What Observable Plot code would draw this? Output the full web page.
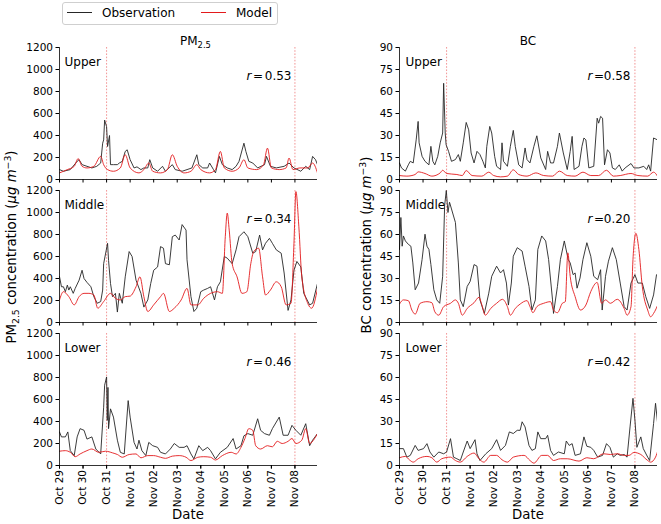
<!DOCTYPE html>
<html><head><meta charset="utf-8">
<script src="https://cdn.jsdelivr.net/npm/d3@7"></script>
<script src="https://cdn.jsdelivr.net/npm/@observablehq/plot@0.6"></script>
<style>
body{margin:0;background:#fff;font-family:"DejaVu Sans",sans-serif;}
#root{position:relative;width:661px;height:524px;overflow:hidden;background:#fff;}
.abs{position:absolute;white-space:nowrap;line-height:1;color:#000;}
sub,sup{font-size:0.7em;line-height:0;}
sub{vertical-align:-0.3em;}
sup{vertical-align:0.55em;}
</style></head><body><div id="root"></div>
<script>
// ---- data: [hours since Oct 29 00:00, value] ----
const regions = ["Upper", "Middle", "Lower"];
const seriesNames = ["Observation", "Model"];
const dayLabels = ["Oct 29","Oct 30","Oct 31","Nov 01","Nov 02","Nov 03","Nov 04","Nov 05","Nov 06","Nov 07","Nov 08"];
const pmTicks = [0, 200, 400, 600, 800, 1000, 1200];
const bcTicks = [0, 15, 30, 45, 60, 75, 90];
const pmR = ["0.53", "0.34", "0.46"];
const bcR = ["0.58", "0.20", "0.42"];

const pmUpperObs = [[0,90],[4,75],[11,90],[18,165],[20,180],[23,135],[28,120],[33,105],[38,120],[42,150],[44,330],[45,360],[46,540],[48,480],[49,300],[51,400],[52,135],[55,135],[59,135],[61,150],[64,165],[67,255],[69,270],[72,180],[76,105],[79,115],[83,90],[86,105],[90,105],[92,180],[95,105],[100,75],[105,120],[108,75],[115,135],[118,90],[125,75],[130,90],[135,105],[140,225],[142,135],[146,105],[151,105],[153,150],[157,90],[159,60],[163,210],[166,135],[171,105],[176,90],[180,120],[183,165],[188,330],[190,255],[193,165],[197,150],[202,105],[209,135],[211,210],[215,120],[221,105],[229,120],[234,150],[239,105],[246,75],[251,120],[255,90],[258,210],[261,180],[263,135]];
const pmUpperMod = [[0,60],[8,90],[15,120],[19,190],[23,120],[28,105],[35,120],[42,210],[45,135],[49,90],[55,75],[62,105],[67,225],[72,105],[81,60],[86,90],[91,150],[95,75],[103,60],[110,90],[115,225],[120,120],[127,60],[134,75],[140,135],[144,90],[153,60],[159,90],[164,255],[168,105],[176,75],[183,105],[188,180],[192,105],[201,90],[208,135],[212,285],[216,105],[224,90],[231,105],[234,195],[238,90],[245,105],[253,105],[258,150],[263,60]];
const pmMiddleObs = [[0,417],[2,325],[4,325],[6,280],[8,340],[9.5,295],[11,325],[14,265],[16,310],[20,385],[23,475],[25,400],[28,365],[32,325],[35,235],[38.5,175],[42,190],[44,295],[45,535],[49,720],[50,565],[52,355],[54,235],[57,265],[59,95],[61,265],[64,175],[67,415],[71,645],[74,600],[78,385],[83,265],[86,140],[90,205],[93,355],[96,475],[100,505],[103,690],[106,675],[108,535],[112,525],[115,780],[118,795],[122,750],[125,890],[129,840],[130,570],[134,235],[137,100],[140,130],[144,280],[147,295],[151,310],[154,325],[158,205],[161,325],[164,370],[168,600],[171,585],[176,535],[180,660],[183,780],[188,825],[192,780],[197,630],[200,645],[204,795],[207,660],[210,720],[214,765],[217,720],[221,660],[226,630],[229,450],[233,110],[236,205],[239,475],[242,555],[246,505],[249,265],[255,160],[258,175],[263,355]];
const pmMiddleMod = [[0,205],[4,280],[9.5,235],[15,160],[20,235],[25,265],[30,265],[35,250],[39,130],[45,190],[52,265],[57,220],[62,205],[67,235],[72,240],[78,325],[82,415],[86,235],[90,100],[96,160],[103,235],[106,265],[112,100],[117,130],[124,205],[130,310],[134,160],[141,160],[147,220],[154,265],[161,280],[166,265],[169,780],[171,995],[173,840],[176,535],[181,415],[186,265],[191,280],[195,535],[198,645],[203,675],[207,415],[210,250],[215,295],[221,370],[226,325],[231,160],[236,175],[239,720],[241,1190],[244,870],[247,415],[253,175],[257,130],[263,310]];
const pmLowerObs = [[0,305],[2,260],[6,260],[8.5,305],[11,135],[15,90],[18,260],[21,335],[25,320],[28,240],[33,260],[37,150],[42,105],[45,530],[46,730],[48,805],[48.7,410],[49.4,710],[50,335],[52,515],[55,440],[59,230],[62,120],[66,105],[70,590],[72,440],[76,210],[79,150],[81,230],[84,135],[88,90],[91,210],[95,180],[100,165],[103,120],[108,105],[113,150],[117,200],[122,165],[127,165],[130,180],[134,105],[137,60],[142,180],[146,135],[151,165],[154,135],[159,60],[164,120],[171,165],[177,245],[180,150],[185,180],[188,270],[192,290],[197,275],[202,425],[205,320],[209,290],[214,275],[217,335],[224,440],[228,275],[233,275],[237,365],[241,320],[246,275],[251,380],[255,180],[258,230],[263,290]];
const pmLowerMod = [[0,130],[6,135],[11,120],[16,80],[21,105],[28,135],[33,150],[40,120],[47,130],[54,115],[59,100],[64,75],[71,100],[78,105],[83,70],[90,90],[96,90],[103,75],[108,65],[115,85],[122,90],[129,75],[134,45],[141,75],[147,80],[154,75],[159,50],[166,90],[175,120],[180,105],[185,165],[189,245],[193,335],[197,320],[200,180],[205,150],[212,180],[217,170],[222,220],[227,200],[233,220],[237,245],[241,200],[247,230],[251,335],[255,200],[260,245],[263,290]];

const bcUpperObs = [[0,11.3],[2,7.9],[6,5.7],[9,10],[11,12.4],[14,11.3],[17,27],[19,39.6],[20,25],[23,15.8],[26,12.4],[30,10],[32,22.6],[34,12.4],[36,10],[39,15.8],[41.5,25],[44,31.7],[45,65.6],[46.6,31.7],[47.5,23.7],[50,19.2],[53,12.4],[57,13.6],[60,17],[62,12.4],[65,25],[68,38.9],[70.5,33.9],[73,18.1],[76,11.3],[79,19.2],[82,17],[85,12.4],[87.5,7.9],[89,22.6],[92,36.2],[94,31.7],[97,15.8],[99,9],[103,6.8],[104.5,25],[106,12.4],[110,9],[113,22.6],[116,33.5],[118,22.6],[121.5,10],[125,7.9],[128,21.5],[130,13.6],[133,11.3],[137,22.6],[140,29.8],[144,14.7],[149,6.8],[151,19.2],[154,11.3],[157,11.3],[161,22.6],[163,31.7],[167,18.1],[171,6.8],[174,19.2],[176,29.4],[178,6.8],[183,9],[186,22.6],[188,28.3],[190,27],[193,7.9],[198,9],[201.5,41.8],[203,38.4],[205,43],[207,41.8],[209,10],[212,20.3],[214.5,18.1],[217,7.9],[220,6.8],[224,10],[227,5.7],[230,7.9],[236,10.9],[239,7.9],[244,7.9],[249,9],[252,6.8],[254,10],[256,5.7],[259,28.3],[263,27]];
const bcUpperMod = [[0,2.7],[7.5,2.3],[16,3.4],[19,5.2],[26,4.1],[33,2.3],[41.5,4.5],[44,6.3],[48,4.1],[58.5,3.4],[64,2.7],[68,6.1],[74,2.7],[84,2.3],[91,5],[96,2.7],[103,1.8],[110,2.3],[116,6.6],[121.5,3.4],[130,2.3],[139,4.5],[147,2.7],[156,2.3],[163,5.7],[171,2.7],[179,2.3],[187,5],[195,2.7],[203,2.7],[211,6.3],[218,2.3],[225,2.7],[236,4.1],[243,2.7],[253,2.3],[259,5],[263,2.3]];
const bcMiddleObs = [[0,49.8],[1.4,71.6],[2.7,52],[4,59],[6,55.6],[9,53.3],[11.6,52],[13.6,40.6],[16,22.3],[19.4,26.9],[23,42.9],[26,60.2],[28,52],[30,49.8],[32,39.5],[35,22.3],[38,15.4],[41,13.1],[44,31.5],[46,79.7],[47.7,90],[49.4,75],[51,82],[53,77.4],[57,68.2],[60,40.6],[62,15.4],[65,10.8],[69,24.6],[72,28],[76,39.5],[79,38.4],[82,15.4],[86.5,6.2],[91,20],[94,31.5],[99,38.4],[103,33.8],[106,36],[109,26.9],[111,11.9],[114,26.9],[116,45.2],[120,51],[125,48.7],[128,38.4],[132,24.6],[135,8.5],[138.5,15.4],[141,49.8],[145,59],[149,55.6],[152,42.9],[156,15.4],[157,6.2],[161,24.6],[164,42.9],[168,55.6],[172,42.9],[174,40.6],[177,32.6],[179,33.8],[181,23.4],[184,30.3],[187,42.9],[191,54.4],[195,45.2],[198,31.5],[202,29.2],[205,36],[206.6,8.5],[210,31.5],[213,41.8],[217,51],[221,42.9],[225,26.9],[229,10.8],[232,8.5],[236,26.9],[240,32.6],[243,26.9],[247.5,26.9],[251,17.7],[255,9.6],[259,18.8],[262,32.6],[264,31.5]];
const bcMiddleMod = [[0,12.6],[4,15.4],[9,14.9],[12.6,8.5],[16,5.7],[21,13.1],[28,14.2],[33,13.5],[36,7.3],[40,5],[45,10.8],[52,13.1],[57,15.4],[60,13.1],[64,5],[69,9.6],[76,13.5],[81,17.2],[84,11.9],[87.5,5],[93,9.6],[99,13.1],[105,15.8],[110,10.8],[113,5],[118,9.6],[123,12.6],[130,14.9],[133,10.8],[136,6.7],[140,10.8],[147,13.1],[154,14.2],[157,8.5],[161,6.7],[166,13.1],[169,14.2],[171.6,47.5],[174,31.5],[179,17.7],[184.5,8.5],[190,11.9],[195,21.1],[201.5,27.3],[206,13.1],[210,15.4],[215,13.1],[222,15.8],[229,9.6],[232,5],[236,10.8],[238,42.9],[241,60.8],[244,49.8],[247.5,24.6],[253,8.5],[256,3.9],[259,6.2],[264,13.1]];
const bcLowerObs = [[0,11.5],[4,11.5],[7.5,5.7],[11,6.9],[16,13.7],[19,10.3],[24.5,11.5],[28,14.9],[31,9.2],[35,5.7],[40,9.2],[45,8],[48,9.2],[52,18.3],[55,5.7],[58.5,4.6],[62,3.4],[65,9.2],[69,16.7],[72,11.5],[77,17.6],[79,8],[82,3.4],[88,8],[94,11.5],[99,17.6],[103,10.3],[108,13.7],[112,22.9],[116,21.8],[120,24],[123,24],[125,29.8],[128,26.3],[132,13.7],[135,10.3],[138.5,11.5],[141,22.9],[144,18.3],[149,18.3],[151,20.6],[154,10.3],[157,6.9],[162,9.2],[168,8],[170,16.7],[173,13.7],[176,14.9],[179,6.9],[184.5,8],[188,19.5],[191,13.1],[195,12.4],[198,10.3],[202,5.7],[207,6.9],[211,14.9],[214.5,12.4],[218,5.7],[222,8],[225,6.9],[229,7.5],[232,5.7],[235,26.3],[238,45.8],[240,30.9],[242,12.4],[246,19.5],[248.5,11.5],[253,5.7],[255,3.4],[259,28.6],[261,42.4],[263.5,26.3]];
const bcLowerMod = [[0,5.3],[6,6.2],[10,3.9],[14,2.3],[19,4.6],[28,6.2],[33,5.3],[38,2.3],[43,4.6],[52,5.7],[57,3.4],[62,2.3],[69,6.2],[76,8.5],[81,4.6],[86,2.3],[93,6.9],[99,6.9],[104.5,3.9],[110,2.3],[116,5.7],[127,6.9],[133,3.4],[137,1.6],[145,6.9],[151,6.9],[157,3.4],[164,4.6],[171,4.6],[183,3],[191,5.3],[198,4.6],[208,8],[215,7.5],[222,8],[229,6.9],[234,6.9],[239,8.9],[246,7.5],[253,3.4],[256,2.3],[261,5.7],[264,11.5]];

// ---- helpers ----
const START = Date.UTC(2017, 9, 29);
const toDate = h => new Date(START + h * 3600e3);
const dayTicks = dayLabels.map((_, i) => toDate(i * 24));
const markerDays = [toDate(48), toDate(240)];
const fmtDay = d => dayLabels[Math.round((d - START) / 864e5)];
function rows(pairs, region, series) {
  return pairs.map(([h, v]) => ({date: toDate(h), value: v, region, series}));
}
const pmData = [
  ...rows(pmUpperObs, "Upper", "Observation"), ...rows(pmUpperMod, "Upper", "Model"),
  ...rows(pmMiddleObs, "Middle", "Observation"), ...rows(pmMiddleMod, "Middle", "Model"),
  ...rows(pmLowerObs, "Lower", "Observation"), ...rows(pmLowerMod, "Lower", "Model")
];
const bcData = [
  ...rows(bcUpperObs, "Upper", "Observation"), ...rows(bcUpperMod, "Upper", "Model"),
  ...rows(bcMiddleObs, "Middle", "Observation"), ...rows(bcMiddleMod, "Middle", "Model"),
  ...rows(bcLowerObs, "Lower", "Observation"), ...rows(bcLowerMod, "Lower", "Model")
];

function column({data, yTicks, rVals, width, marginLeft, marginRight, labelDx, rDx, eqDx, numDx}) {
  const rData = regions.map((region, i) => ({region, r: rVals[i]}));
  const txt = {fy: "region", frameAnchor: "top-right", lineAnchor: "top", dy: 24, fontSize: 12};
  return Plot.plot({
    width, height: 524,
    marginLeft, marginRight, marginTop: 46, marginBottom: 59,
    style: {fontFamily: "'DejaVu Sans', sans-serif", fontSize: "10.5px", background: "transparent", color: "#000", overflow: "visible"},
    x: {type: "utc", domain: [toDate(0), toDate(263)], label: null},
    y: {domain: [yTicks[0], yTicks[yTicks.length - 1]], label: null},
    fy: {domain: regions, paddingInner: 0.08, paddingOuter: 0, axis: null, label: null},
    color: {domain: seriesNames, range: ["#262626", "#e31a1c"]},
    marks: [
      Plot.ruleX(markerDays, {stroke: "#f08a8a", strokeWidth: 0.9, strokeDasharray: "1.6,1.6"}),
      Plot.lineY(data.filter(d => d.series === "Observation"), {x: "date", y: "value", stroke: "series", fy: "region", strokeWidth: 0.9, clip: true}),
      Plot.lineY(data.filter(d => d.series === "Model"), {x: "date", y: "value", stroke: "series", fy: "region", strokeWidth: 0.9, curve: "monotone-x", clip: true}),
      Plot.ruleY([yTicks[0]], {stroke: "#000", strokeWidth: 0.8}),
      Plot.ruleX([toDate(0)], {stroke: "#000", strokeWidth: 0.8}),
      Plot.axisY({ticks: yTicks, tickSize: 3.5, tickPadding: 3, tickFormat: d => String(d), label: null}),
      Plot.axisX({ticks: dayTicks, tickFormat: () => "", tickSize: 3.5, facetAnchor: null, label: null}),
      Plot.axisX({ticks: dayTicks, tickFormat: fmtDay, tickRotate: -90, tickSize: 3.5, tickPadding: 1, label: null}),
      Plot.text(regions, {fy: d => d, text: d => d, frameAnchor: "top-left", lineAnchor: "top", textAnchor: "start", dx: labelDx, dy: 10, fontSize: 12}),
      Plot.text(rData, {...txt, text: () => "r", textAnchor: "start", dx: rDx, fontStyle: "italic"}),
      Plot.text(rData, {...txt, text: () => "=", textAnchor: "middle", dx: eqDx}),
      Plot.text(rData, {...txt, text: "r", textAnchor: "end", dx: numDx})
    ]
  });
}

const root = document.getElementById("root");
function place(el, left, top) {
  el.style.position = "absolute"; el.style.left = left + "px"; el.style.top = top + "px";
  root.appendChild(el);
}
const left = column({data: pmData, yTicks: pmTicks, rVals: pmR, width: 330, marginLeft: 59, marginRight: 13, labelDx: 5, rDx: -71, eqDx: -59.5, numDx: -26});
place(left, 0, 0);
const right = column({data: bcData, yTicks: bcTicks, rVals: bcR, width: 331, marginLeft: 69, marginRight: 4, labelDx: 6, rDx: -70, eqDx: -58.5, numDx: -27});
place(right, 330, 0);

function html(str, css) {
  const d = document.createElement("div");
  d.className = "abs"; d.innerHTML = str; d.style.cssText += css;
  root.appendChild(d); return d;
}
// titles
html("PM<sub>2.5</sub>", "left:180px;top:35px;font-size:12px;");
html("BC", "left:528px;top:35px;font-size:12px;transform:translateX(-50%);");
// y labels
html("PM<sub>2.5</sub> concentration (<i>μg m</i><sup>−3</sup>)", "left:12px;top:247px;font-size:13.3px;transform:translate(-50%,-50%) rotate(-90deg);");
html("BC concentration (<i>μg m</i><sup>−3</sup>)", "left:367px;top:245px;font-size:13.3px;transform:translate(-50%,-50%) rotate(-90deg);");
// x labels
html("Date", "left:188px;top:508px;font-size:13.3px;transform:translateX(-50%);");
html("Date", "left:528px;top:508px;font-size:13.3px;transform:translateX(-50%);");
// legend
html("", "left:62px;top:2px;width:214px;height:21px;border:1px solid #cfcfcf;border-radius:3px;background:#fff;");
html("", "left:67px;top:12px;width:25px;height:0;border-top:1px solid #262626;");
html("Observation", "left:102px;top:7px;font-size:12px;");
html("", "left:201px;top:12px;width:25px;height:0;border-top:1px solid #e31a1c;");
html("Model", "left:236px;top:7px;font-size:12px;");
</script></body></html>
